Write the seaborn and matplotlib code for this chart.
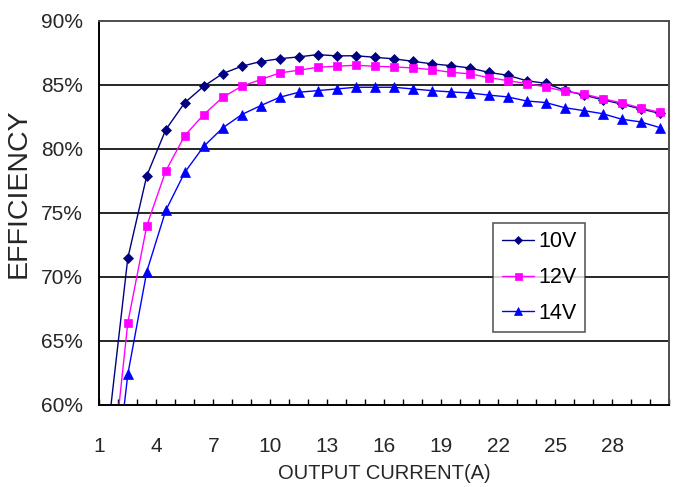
import matplotlib
matplotlib.use("Agg")
import matplotlib.pyplot as plt
from matplotlib import font_manager
from matplotlib.ticker import FixedLocator, MultipleLocator
import pandas as pd
import seaborn as sns

# Output current (A) at each measured point
current = [1.5, 2.5, 3.5, 4.5, 5.5, 6.5, 7.5, 8.5, 9.5, 10.5,
           11.5, 12.5, 13.5, 14.5, 15.5, 16.5, 17.5, 18.5, 19.5, 20.5,
           21.5, 22.5, 23.5, 24.5, 25.5, 26.5, 27.5, 28.5, 29.5, 30.5]

# Efficiency (%) for each input voltage
eff_10v = [58.5, 71.45, 77.89, 81.48, 83.59, 84.87, 85.86, 86.43, 86.80, 87.02,
           87.16, 87.34, 87.24, 87.25, 87.13, 87.01, 86.82, 86.62, 86.48, 86.30,
           85.95, 85.73, 85.30, 85.10, 84.55, 84.18, 83.82, 83.48, 83.10, 82.76]
eff_12v = [52.5, 66.41, 73.98, 78.26, 81.02, 82.66, 84.01, 84.87, 85.39, 85.91,
           86.12, 86.35, 86.43, 86.51, 86.43, 86.38, 86.30, 86.17, 85.96, 85.84,
           85.55, 85.31, 85.08, 84.82, 84.48, 84.27, 83.91, 83.57, 83.18, 82.84]
eff_14v = [49.5, 62.38, 70.41, 75.18, 78.15, 80.18, 81.62, 82.66, 83.36, 84.01,
           84.40, 84.53, 84.66, 84.79, 84.79, 84.79, 84.66, 84.53, 84.43, 84.35,
           84.18, 84.04, 83.72, 83.60, 83.20, 82.97, 82.73, 82.30, 82.09, 81.65]

series_names = ["10V", "12V", "14V"]
x_tick_values = [1, 4, 7, 10, 13, 16, 19, 22, 25, 28]
y_tick_values = [60, 65, 70, 75, 80, 85, 90]

df = pd.DataFrame({
    "current": current * 3,
    "efficiency": eff_10v + eff_12v + eff_14v,
    "vin": [n for n in series_names for _ in current],
})

sns.set_style("white")


def pick_font(names):
    for n in names:
        try:
            font_manager.findfont(n, fallback_to_default=False)
            return n
        except Exception:
            continue
    return "DejaVu Sans"


base = pick_font(["Liberation Sans", "Arial"])
plt.rcParams["font.family"] = [base, "DejaVu Sans"]
plt.rcParams["text.color"] = "black"

fig = plt.figure(figsize=(6.76, 4.87), dpi=100)
ax = fig.add_axes([0.1469, 0.1684, 0.8428, 0.7895])

styles = {
    "10V": dict(color="#000080", marker="D", markersize=4.6),
    "12V": dict(color="#FF00FF", marker="s", markersize=5.6),
    "14V": dict(color="#0000FF", marker="^", markersize=6.6),
}

for name in series_names:
    st = styles[name]
    sns.lineplot(
        data=df[df["vin"] == name], x="current", y="efficiency",
        color=st["color"], marker=st["marker"], markersize=st["markersize"],
        markeredgecolor=st["color"], markerfacecolor=st["color"],
        markeredgewidth=0.5, linewidth=1.0, label=name, ax=ax,
        errorbar=None,
    )

ax.set_xlim(1, 31)
ax.set_ylim(60, 90)

# Horizontal gridlines
for v in y_tick_values[1:-1]:
    ax.axhline(v, color="#262626", linewidth=1.4, zorder=0.5)

ax.xaxis.set_major_locator(FixedLocator(x_tick_values))
ax.xaxis.set_minor_locator(MultipleLocator(1))
ax.set_xticklabels([str(v) for v in x_tick_values])
ax.set_yticks(y_tick_values)
ax.set_yticklabels([f"{v}%" for v in y_tick_values])

ax.tick_params(axis="x", which="both", direction="in", length=4.5, width=1.0,
               color="black", bottom=True, top=False, pad=23, labelsize=15)
ax.tick_params(axis="y", which="both", length=0, pad=12, labelsize=15)

for side, sp in ax.spines.items():
    sp.set_visible(True)
    sp.set_color("black" if side in ("left", "bottom") else "#4d4d4d")
    sp.set_linewidth(1.4)

ax.set_xlabel("OUTPUT CURRENT(A)", fontsize=14.5, labelpad=6)
ax.set_ylabel("EFFICIENCY", fontsize=20.5)
ax.yaxis.set_label_coords(-0.118, 0.55)

handles, labels = ax.get_legend_handles_labels()
leg = ax.legend(
    handles, labels, loc="upper left", bbox_to_anchor=(0.6916, 0.4726),
    frameon=True, fancybox=False, shadow=False, fontsize=15.5,
    handlelength=1.5, handletextpad=0.22, labelspacing=0.68,
    borderpad=0.38, borderaxespad=0.0, markerscale=0.9,
)
leg.get_frame().set_edgecolor("#333333")
leg.get_frame().set_linewidth(1.2)

fig.savefig("out.png", dpi=100)
